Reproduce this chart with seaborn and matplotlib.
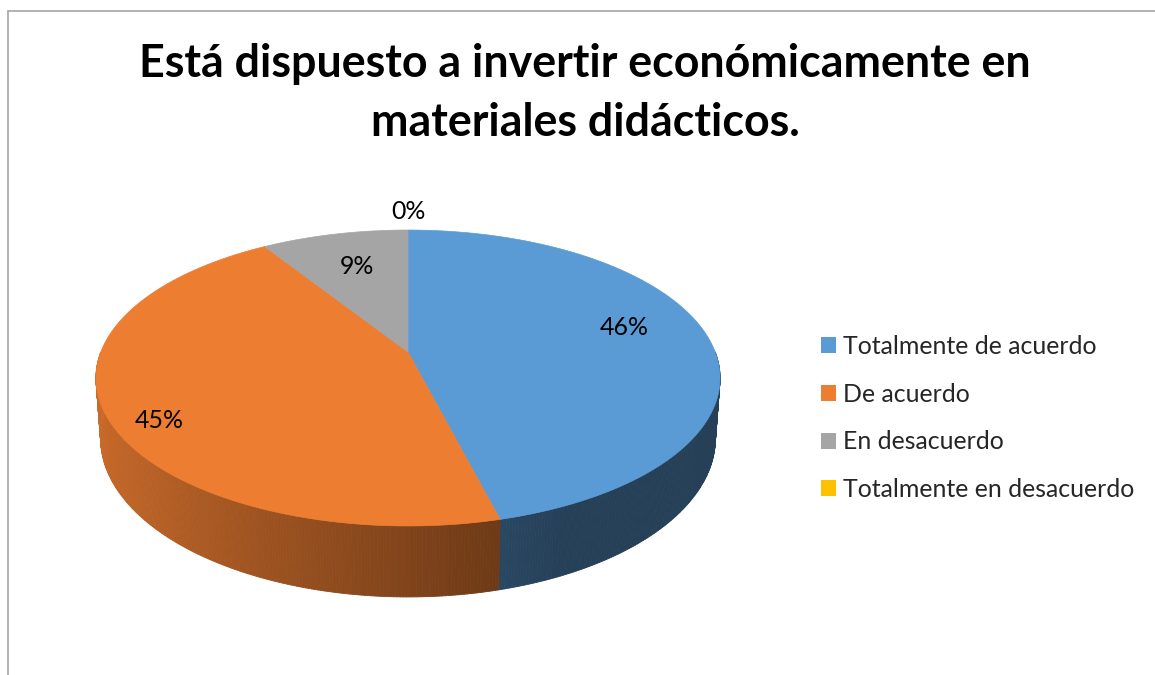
import matplotlib
matplotlib.use('Agg')
from matplotlib.collections import PolyCollection
from matplotlib.font_manager import FontProperties
from matplotlib.lines import Line2D
from matplotlib.patches import Patch, Polygon
from matplotlib.textpath import TextPath
import matplotlib.pyplot as plt
import numpy as np
import seaborn as sns

CATEGORIES = ['Totalmente de acuerdo', 'De acuerdo', 'En desacuerdo',
              'Totalmente en desacuerdo']
PERCENTS = [46, 45, 9, 0]
COLORS = ['#5B9BD5', '#ED7D31', '#A5A5A5', '#FFC000']
TITLE_LINES = ['Está dispuesto a invertir económicamente en',
               'materiales didácticos.']

W, H = 1155, 675
FONT = 'Lato'

# perspective model of the pie (pixel space)
CX, CY = 408, 352
A, B, K = 307.2, 143.4, 0.1757
DEPTH = 58.5
LABEL_R = [0.72, 0.83, 0.66, 1.18]
LABEL_DY = [-12, 18, -4, 0]


def fit_size(text, width_px, weight='normal'):
    fp = FontProperties(family=FONT, weight=weight, size=100)
    w = TextPath((0, 0), text, prop=fp).get_extents().width
    return width_px * 72 / w


def project(r, theta, drop=0.0, shrink=1.0):
    u = r * np.sin(theta)
    v = r * np.cos(theta)
    d = 1 + K * v
    return CX + shrink * A * u / d, CY - B * v / d + drop / d


def shade(theta):
    return max(0.41, 0.54 - 0.313 * np.sin(theta))


def main():
    sns.set_theme(style='white')
    plt.rcParams['font.family'] = [FONT, 'DejaVu Sans']

    fig = plt.figure(figsize=(W / 100, H / 100), dpi=100)
    ax = fig.add_axes([0, 0, 1, 1])
    ax.set_xlim(0, W)
    ax.set_ylim(H, 0)
    ax.axis('off')

    fracs = np.array(PERCENTS, dtype=float) / sum(PERCENTS)
    bounds = np.concatenate([[0], np.cumsum(fracs)]) * 2 * np.pi

    # side of the slab (front half only)
    polys, cols = [], []
    for i, color in enumerate(COLORS):
        lo = max(bounds[i], np.pi / 2)
        hi = min(bounds[i + 1], 3 * np.pi / 2)
        if hi <= lo:
            continue
        base = np.array(matplotlib.colors.to_rgb(color))
        ts = np.linspace(lo, hi, max(2, int(np.degrees(hi - lo) * 2)))
        for t0, t1 in zip(ts[:-1], ts[1:]):
            p0 = project(1, t0)
            p1 = project(1, t1)
            q1 = project(1, t1, DEPTH, 0.985)
            q0 = project(1, t0, DEPTH, 0.985)
            polys.append([p0, p1, q1, q0])
            cols.append(base * shade((t0 + t1) / 2))
    ax.add_collection(PolyCollection(polys, facecolors=cols, edgecolors=cols,
                                     linewidths=0.6))

    # top face
    for i, color in enumerate(COLORS):
        if bounds[i + 1] - bounds[i] <= 0:
            continue
        ts = np.linspace(bounds[i], bounds[i + 1], 200)
        pts = [project(0, 0)] + [project(1, t) for t in ts]
        ax.add_patch(Polygon(pts, closed=True, facecolor=color,
                             edgecolor=color, linewidth=0.5))

    # data labels
    label_size = fit_size('Totalmente de acuerdo', 252)
    for i, p in enumerate(PERCENTS):
        mid = (bounds[i] + bounds[i + 1]) / 2
        x, y = project(LABEL_R[i], mid)
        ax.text(x, y + LABEL_DY[i], f'{p}%', ha='center', va='center',
                fontsize=label_size, color='#000000')

    # title
    title_size = fit_size(TITLE_LINES[0], 886, 'bold')
    ax.text(585, 77, TITLE_LINES[0], ha='center', va='baseline',
            fontsize=title_size, fontweight='bold', color='#000000')
    ax.text(585, 136, TITLE_LINES[1], ha='center', va='baseline',
            fontsize=title_size, fontweight='bold', color='#000000')

    # chart border
    ax.add_line(Line2D([8, W], [11, 11], color='#A6A6A6', lw=1.2))
    ax.add_line(Line2D([8, 8], [11, H], color='#A6A6A6', lw=1.2))

    # legend
    fs_px = label_size * 100 / 72
    handles = [Patch(facecolor=c, edgecolor='none') for c in COLORS]
    ax.legend(handles, CATEGORIES, loc='center left',
              bbox_to_anchor=(821 / W, 1 - 418 / H),
              frameon=False, fontsize=label_size, borderpad=0,
              borderaxespad=0, handlelength=15 / fs_px,
              handleheight=15 / fs_px, handletextpad=7 / fs_px,
              labelspacing=(54.6 - 1.2 * fs_px) / fs_px)

    fig.savefig('out.png', dpi=100)


if __name__ == '__main__':
    main()
